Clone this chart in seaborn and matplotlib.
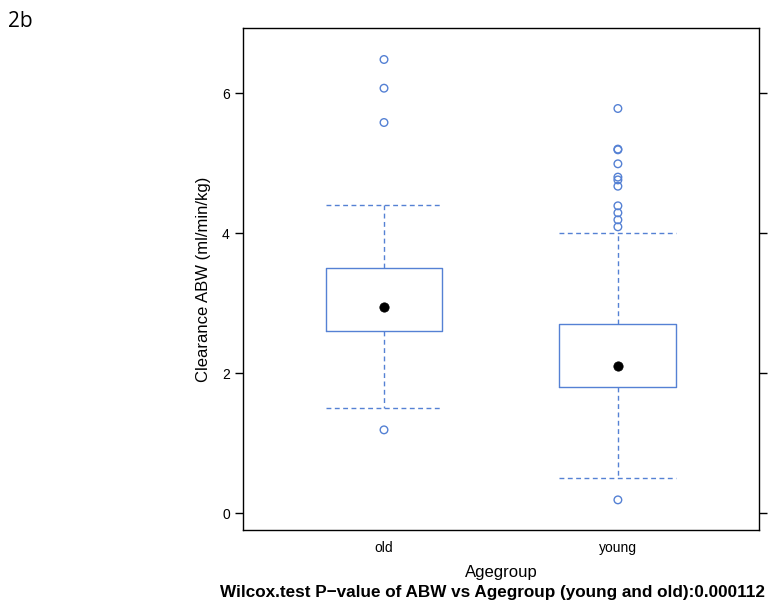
import matplotlib
matplotlib.use("Agg")
import matplotlib.pyplot as plt
import seaborn as sns
import pandas as pd

groups = ["old", "young"]
q1 = [2.6, 1.8]
median = [2.95, 2.1]
q3 = [3.5, 2.7]
whisker_low = [1.5, 0.5]
whisker_high = [4.4, 4.0]
outliers_old = [6.48, 6.07, 5.58, 1.19]
outliers_young = [5.78, 5.2, 5.19, 4.99, 4.8, 4.76, 4.67, 4.39, 4.29, 4.19, 4.09, 0.19]

sns.set_style("ticks")
plt.rcParams['font.family'] = ['Liberation Sans', 'DejaVu Sans']
plt.rcParams['text.color'] = 'black'
plt.rcParams['axes.labelcolor'] = 'black'
plt.rcParams['xtick.color'] = 'black'
plt.rcParams['ytick.color'] = 'black'

blue = "#5581d4"

fig = plt.figure(figsize=(7.76, 6.11), dpi=100)
ax = fig.add_axes([0.3131, 0.1326, 0.6649, 0.8216])

stats = []
for i, g in enumerate(groups):
    stats.append(dict(label=g, q1=q1[i], med=median[i], q3=q3[i],
                      whislo=whisker_low[i], whishi=whisker_high[i], fliers=[]))

dash = (0, (3.5, 2.5))
ax.bxp(stats, positions=[1, 2], widths=0.5, showfliers=False,
       boxprops=dict(color=blue, linewidth=1.0),
       whiskerprops=dict(color=blue, linewidth=1.0, linestyle=dash),
       capprops=dict(color=blue, linewidth=1.0, linestyle=dash),
       medianprops=dict(visible=False), capwidths=0.5)

out = pd.DataFrame({
    "pos": [1] * len(outliers_old) + [2] * len(outliers_young),
    "value": outliers_old + outliers_young,
})
sns.scatterplot(data=out, x="pos", y="value", ax=ax, marker="o", s=30,
                facecolor="none", edgecolor=blue, linewidth=1.0, zorder=3)

med_df = pd.DataFrame({"pos": [1, 2], "value": median})
sns.scatterplot(data=med_df, x="pos", y="value", ax=ax, color="black", s=45,
                edgecolor="black", zorder=4)

ax.set_xlim(0.397, 2.603)
ax.set_ylim(-0.24, 6.93)
ax.set_xticks([1, 2])
ax.set_xticklabels(groups, fontsize=10)
ax.set_yticks([0, 2, 4, 6])
ax.set_yticklabels(["0", "2", "4", "6"], fontsize=10)
ax.tick_params(axis="x", length=0, pad=8)
ax.tick_params(axis="y", length=6, width=1, right=True, labelright=False, direction="out")
for s in ax.spines.values():
    s.set_linewidth(1.0)
    s.set_color("black")

ax.set_ylabel("Clearance ABW (ml/min/kg)", fontsize=12, labelpad=8)
ax.set_xlabel("Agegroup", fontsize=12, labelpad=7)
fig.text(0.6345, 0.018, "Wilcox.test P\u2212value of ABW vs Agegroup (young and old):0.000112",
         ha="center", va="bottom", fontsize=12.3, fontweight="bold")
fig.text(0.01, 0.955, "2b", fontsize=15, family=["Open Sans", "DejaVu Sans"])

fig.savefig("out.png", dpi=100)
